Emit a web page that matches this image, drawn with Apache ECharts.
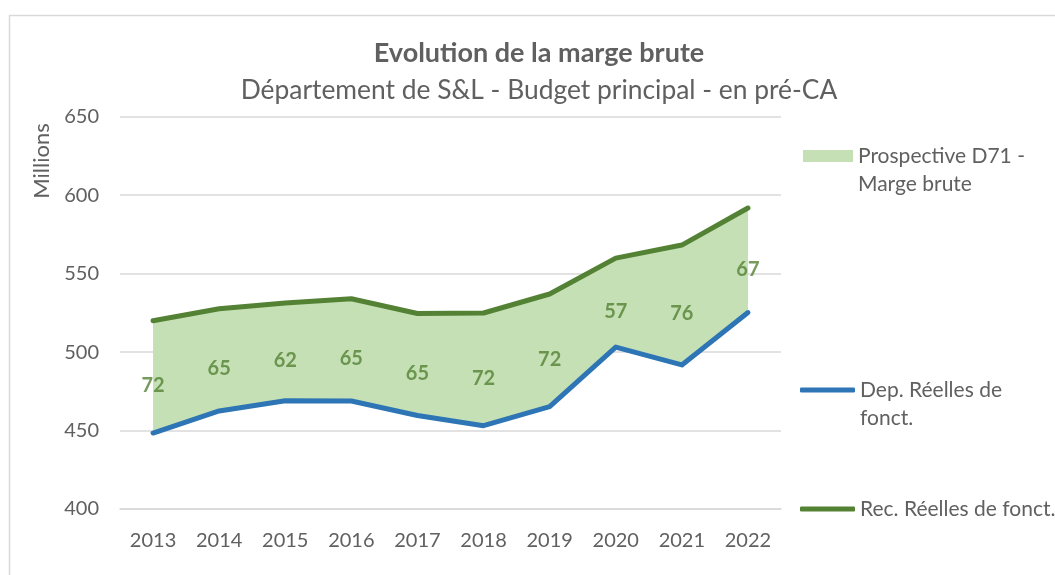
<!DOCTYPE html>
<html>
<head>
<meta charset="utf-8">
<script src="https://cdn.jsdelivr.net/npm/echarts@6/dist/echarts.min.js"></script>
<style>
  html, body { margin: 0; padding: 0; background: #ffffff; }
  #chart { width: 1055px; height: 575px; }
</style>
</head>
<body>
<div id="chart"></div>
<script>
// Years on the horizontal axis
const categories = ['2013', '2014', '2015', '2016', '2017', '2018', '2019', '2020', '2021', '2022'];
// Dépenses réelles de fonctionnement (millions)
const depReelles = [448.4, 462.5, 469.0, 468.8, 459.6, 453.1, 465.2, 503.2, 491.8, 525.2];
// Recettes réelles de fonctionnement (millions)
const recReelles = [520.0, 527.6, 531.3, 534.0, 524.6, 524.9, 537.0, 559.9, 568.2, 591.8];
// Value axis ticks
const yTicks = [400, 450, 500, 550, 600, 650];

const NAME_MARGE = 'Prospective D71 - Marge brute';
const NAME_DEP = 'Dep. Réelles de fonct.';
const NAME_REC = 'Rec. Réelles de fonct.';

const FONT = 'Lato, "Open Sans", sans-serif';
const TEXT_GREY = '#606060';
const GRID_GREY = '#d9d9d9';
const BAND_GREEN = '#c5e0b4';
const LINE_GREEN = '#548235';
const LINE_BLUE = '#2e75b6';

// Gross margin = receipts - expenses, stacked on top of expenses to form the band
const marge = recReelles.map((r, i) => +(r - depReelles[i]).toFixed(2));
const margeMid = recReelles.map((r, i) => (r + depReelles[i]) / 2);

const chart = echarts.init(document.getElementById('chart'), null, { renderer: 'canvas' });

const legendText = {
  fontFamily: FONT, fontSize: 21, color: TEXT_GREY, lineHeight: 28
};
// Two-line legend entries: a leading blank line keeps the first text line level with the key
const wrappedLegendText = Object.assign({}, legendText, { width: 175, overflow: 'break' });
const leadBlank = (name) => '\n' + name;

chart.setOption({
  animation: false,
  backgroundColor: '#ffffff',
  title: [
    {
      text: 'Evolution de la marge brute',
      left: 539, top: 37, textAlign: 'center', padding: 0,
      textStyle: { fontFamily: FONT, fontSize: 27, fontWeight: 'bold', color: TEXT_GREY, lineHeight: 32 }
    },
    {
      text: 'Département de S&L - Budget principal - en pré-CA',
      left: 539, top: 74, textAlign: 'center', padding: 0,
      textStyle: { fontFamily: FONT, fontSize: 26.4, fontWeight: 'normal', color: TEXT_GREY, lineHeight: 32 }
    }
  ],
  graphic: [
    {
      type: 'rect', silent: true, z: -10,
      shape: { x: 9.5, y: 15.5, width: 1200, height: 700 },
      style: { fill: 'none', stroke: GRID_GREY, lineWidth: 1.5 }
    },
    {
      type: 'text', silent: true,
      x: 42, y: 161, rotation: Math.PI / 2,
      style: {
        text: 'Millions', fontFamily: FONT, fontSize: 22, fill: TEXT_GREY,
        align: 'center', verticalAlign: 'middle'
      }
    }
  ],
  legend: [
    {
      left: 803, top: 114, padding: 0, itemWidth: 50, itemHeight: 12,
      selectedMode: false,
      data: [{ name: NAME_MARGE, icon: 'rect', itemStyle: { color: BAND_GREEN } }],
      formatter: leadBlank,
      textStyle: wrappedLegendText
    },
    {
      left: 800, top: 348, padding: 0, itemWidth: 55, itemHeight: 5,
      selectedMode: false,
      data: [{ name: NAME_DEP, icon: 'roundRect', itemStyle: { color: LINE_BLUE } }],
      formatter: leadBlank,
      textStyle: wrappedLegendText
    },
    {
      left: 800, top: 495, padding: 0, itemWidth: 55, itemHeight: 5,
      selectedMode: false,
      data: [{ name: NAME_REC, icon: 'roundRect', itemStyle: { color: LINE_GREEN } }],
      textStyle: legendText
    }
  ],
  grid: { left: 120, right: 274, top: 116.7, bottom: 66, containLabel: false },
  xAxis: {
    type: 'category',
    data: categories,
    boundaryGap: true,
    axisLine: { show: true, lineStyle: { color: GRID_GREY, width: 1.5 } },
    axisTick: { show: false },
    axisLabel: { fontFamily: FONT, fontSize: 20, color: TEXT_GREY, margin: 22 }
  },
  yAxis: {
    type: 'value',
    min: yTicks[0],
    max: yTicks[yTicks.length - 1],
    interval: yTicks[1] - yTicks[0],
    axisLine: { show: false },
    axisTick: { show: false },
    splitLine: { lineStyle: { color: GRID_GREY, width: 1.5 } },
    axisLabel: { fontFamily: FONT, fontSize: 20, color: TEXT_GREY, margin: 21 }
  },
  series: [
    {
      name: 'base',
      type: 'line',
      stack: 'band',
      data: depReelles,
      symbol: 'none',
      lineStyle: { width: 0, opacity: 0 },
      silent: true,
      z: 1
    },
    {
      name: NAME_MARGE,
      type: 'line',
      stack: 'band',
      data: marge,
      symbol: 'none',
      lineStyle: { width: 0, opacity: 0 },
      itemStyle: { color: BAND_GREEN },
      areaStyle: { color: BAND_GREEN, opacity: 1 },
      silent: true,
      z: 1
    },
    {
      name: NAME_DEP,
      type: 'line',
      data: depReelles,
      symbol: 'none',
      itemStyle: { color: LINE_BLUE },
      lineStyle: { color: LINE_BLUE, width: 5, join: 'round', cap: 'round' },
      z: 3
    },
    {
      name: NAME_REC,
      type: 'line',
      data: recReelles,
      symbol: 'none',
      itemStyle: { color: LINE_GREEN },
      lineStyle: { color: LINE_GREEN, width: 5, join: 'round', cap: 'round' },
      z: 3
    },
    {
      name: 'labels',
      type: 'scatter',
      data: margeMid,
      symbolSize: 1,
      itemStyle: { color: 'transparent' },
      silent: true,
      z: 4,
      label: {
        show: true,
        position: 'inside',
        offset: [0, 9],
        fontFamily: FONT,
        fontSize: 20,
        fontWeight: 'bold',
        color: LINE_GREEN,
        formatter: (p) => String(Math.round(marge[p.dataIndex]))
      }
    }
  ]
});
</script>
</body>
</html>
